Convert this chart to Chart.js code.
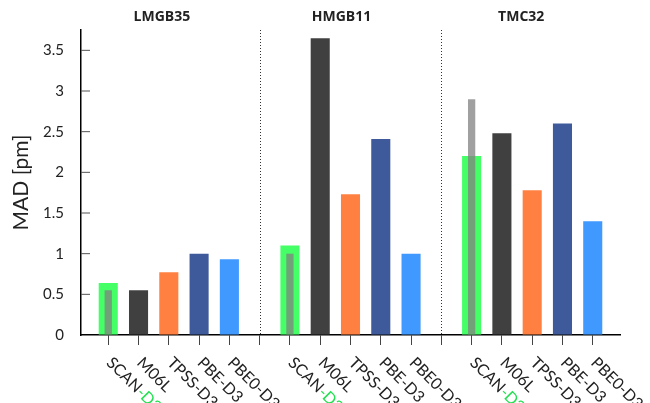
<!DOCTYPE html>
<html><head><meta charset="utf-8">
<script src="https://cdn.jsdelivr.net/npm/chart.js@4"></script>
<style>html,body{margin:0;padding:0;background:#fff;} canvas{display:block;}</style>
</head><body>
<canvas id="c" width="650" height="403"></canvas>
<script>
const groups = ['LMGB35', 'HMGB11', 'TMC32'];
const methods = ['SCAN-D3', 'M06L', 'TPSS-D3', 'PBE-D3', 'PBE0-D3'];
const lmgb35 = [0.64, 0.55, 0.77, 1.00, 0.93];
const hmgb11 = [1.10, 3.65, 1.73, 2.41, 1.00];
const tmc32  = [2.20, 2.48, 1.78, 2.60, 1.40];
const scanNoD3 = [0.55, 1.00, 2.90];
const yTicks = [0, 0.5, 1, 1.5, 2, 2.5, 3, 3.5];
const yTitle = 'MAD [pm]';

const methodColors = ['#44ff66', '#404040', '#ff8040', '#3f5a9b', '#4099ff'];
const FONT = 'Lato, "DejaVu Sans", sans-serif';

const groupValues = [lmgb35, hmgb11, tmc32];
const slot = (g, i) => g * 6 + i + 1;
const mainData = [], mainColors = [];
groupValues.forEach((vals, g) => vals.forEach((v, i) => {
  mainData.push({x: slot(g, i), y: v});
  mainColors.push(methodColors[i]);
}));
const grayData = scanNoD3.map((v, g) => ({x: slot(g, 0), y: v}));
const xTickValues = [];
for (let g = 0; g < groups.length; g++) {
  for (let i = 0; i < methods.length; i++) xTickValues.push(slot(g, i));
  if (g < groups.length - 1) xTickValues.push(slot(g, methods.length));
}
const separators = [6, 12];
const titleFractions = [0.15, 0.4833, 0.8167];

const decor = {
  id: 'decor',
  afterDraw(chart) {
    const {ctx, chartArea: ca, scales: {x, y}} = chart;
    ctx.save();
    // inward y ticks
    ctx.strokeStyle = '#555';
    ctx.lineWidth = 1;
    yTicks.forEach(t => {
      if (t === 0) return;
      const py = y.getPixelForValue(t);
      ctx.beginPath(); ctx.moveTo(ca.left, py); ctx.lineTo(ca.left + 9, py); ctx.stroke();
    });
    // dotted separators
    ctx.strokeStyle = '#333';
    ctx.setLineDash([1, 2]);
    separators.forEach(s => {
      const px = Math.round(x.getPixelForValue(s)) + 0.5;
      ctx.beginPath(); ctx.moveTo(px, ca.top); ctx.lineTo(px, ca.bottom); ctx.stroke();
    });
    ctx.setLineDash([]);
    // group titles
    ctx.fillStyle = '#222';
    ctx.font = 'bold 14px "Open Sans", ' + FONT;
    ctx.textAlign = 'center';
    ctx.textBaseline = 'middle';
    groups.forEach((t, g) => {
      ctx.fillText(t, ca.left + titleFractions[g] * (ca.right - ca.left), 17);
    });
    // rotated x labels
    ctx.font = '16px ' + FONT;
    ctx.textAlign = 'left';
    ctx.textBaseline = 'middle';
    groups.forEach((gname, g) => {
      methods.forEach((m, i) => {
        const px = x.getPixelForValue(slot(g, i));
        ctx.save();
        ctx.translate(px + 1, 360);
        ctx.rotate(Math.PI / 4);
        if (m === 'SCAN-D3') {
          ctx.fillStyle = '#222';
          ctx.fillText('SCAN', 0, 0);
          const w = ctx.measureText('SCAN').width;
          ctx.fillStyle = '#22e050';
          ctx.fillText('-D3', w, 0);
        } else {
          ctx.fillStyle = '#222';
          ctx.fillText(m, 0, 0);
        }
        ctx.restore();
      });
    });
    ctx.restore();
  }
};

new Chart(document.getElementById('c'), {
  type: 'bar',
  data: {
    datasets: [
      {label: 'SCAN', data: grayData, backgroundColor: 'rgba(128,128,128,0.75)',
       barPercentage: 0.24, categoryPercentage: 1, grouped: false, order: 0},
      {label: 'MAD', data: mainData, backgroundColor: mainColors,
       barPercentage: 0.63, categoryPercentage: 1, grouped: false, order: 1}
    ]
  },
  options: {
    responsive: false,
    animation: false,
    devicePixelRatio: 1,
    layout: {padding: {top: 30, right: 30, left: 0, bottom: 0}},
    plugins: {legend: {display: false}, tooltip: {enabled: false}},
    scales: {
      x: {
        type: 'linear',
        offset: false,
        min: 0.1, max: 17.9,
        afterBuildTicks: s => { s.ticks = xTickValues.map(v => ({value: v})); },
        afterFit: s => { s.height = 68; },
        ticks: {display: false, autoSkip: false},
        grid: {offset: false, drawOnChartArea: false, drawTicks: true, tickLength: 10, tickColor: '#444', tickWidth: 1},
        border: {display: true, color: '#000', width: 1.5}
      },
      y: {
        min: 0, max: 3.75,
        afterBuildTicks: s => { s.ticks = yTicks.map(v => ({value: v})); },
        afterFit: s => { s.width = 81; },
        ticks: {padding: 17, color: '#222', font: {family: FONT, size: 15},
                callback: v => String(v)},
        grid: {drawOnChartArea: false, drawTicks: false},
        border: {display: true, color: '#000', width: 1.5},
        title: {display: true, text: yTitle, color: '#222', font: {family: FONT, size: 21},
                padding: {top: 9, bottom: 0}}
      }
    }
  },
  plugins: [decor]
});
</script>
</body></html>
